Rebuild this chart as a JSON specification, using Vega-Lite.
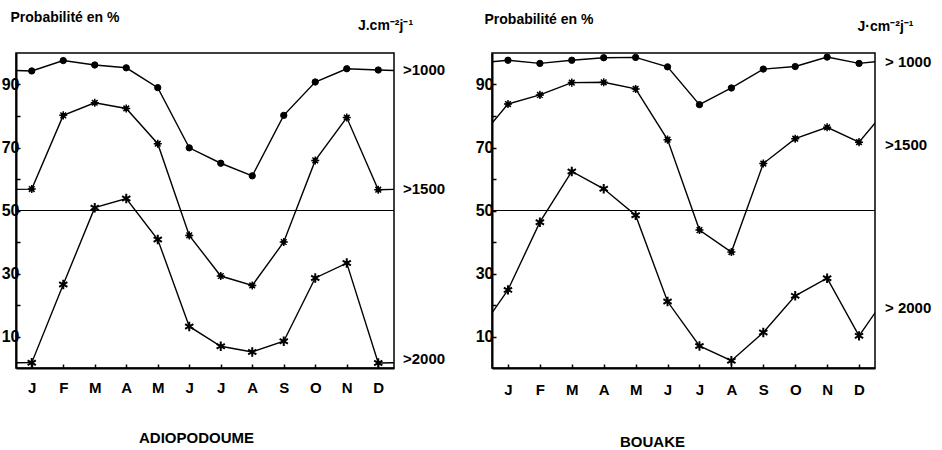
{
  "$schema": "https://vega.github.io/schema/vega-lite/v6.json",
  "autosize": {"type": "pad"},
  "padding": {"left": 0, "top": 9, "right": 5, "bottom": 5},
  "background": "white",
  "spacing": 28,
  "datasets": {
    "obs": [
      {"site": "A", "seuil": ">1000", "mois": 0, "p": 94.6},
      {"site": "A", "seuil": ">1000", "mois": 1, "p": 94.3},
      {"site": "A", "seuil": ">1000", "mois": 2, "p": 97.6},
      {"site": "A", "seuil": ">1000", "mois": 3, "p": 96.2},
      {"site": "A", "seuil": ">1000", "mois": 4, "p": 95.3},
      {"site": "A", "seuil": ">1000", "mois": 5, "p": 89.0},
      {"site": "A", "seuil": ">1000", "mois": 6, "p": 69.9},
      {"site": "A", "seuil": ">1000", "mois": 7, "p": 65.0},
      {"site": "A", "seuil": ">1000", "mois": 8, "p": 61.0},
      {"site": "A", "seuil": ">1000", "mois": 9, "p": 80.2},
      {"site": "A", "seuil": ">1000", "mois": 10, "p": 90.8},
      {"site": "A", "seuil": ">1000", "mois": 11, "p": 95.0},
      {"site": "A", "seuil": ">1000", "mois": 12, "p": 94.6},
      {"site": "A", "seuil": ">1000", "mois": 13, "p": 94.3},
      {"site": "A", "seuil": ">1500", "mois": 0, "p": 56.6},
      {"site": "A", "seuil": ">1500", "mois": 1, "p": 56.8},
      {"site": "A", "seuil": ">1500", "mois": 2, "p": 80.2},
      {"site": "A", "seuil": ">1500", "mois": 3, "p": 84.2},
      {"site": "A", "seuil": ">1500", "mois": 4, "p": 82.4},
      {"site": "A", "seuil": ">1500", "mois": 5, "p": 71.2},
      {"site": "A", "seuil": ">1500", "mois": 6, "p": 42.1},
      {"site": "A", "seuil": ">1500", "mois": 7, "p": 29.2},
      {"site": "A", "seuil": ">1500", "mois": 8, "p": 26.2},
      {"site": "A", "seuil": ">1500", "mois": 9, "p": 40.0},
      {"site": "A", "seuil": ">1500", "mois": 10, "p": 65.9},
      {"site": "A", "seuil": ">1500", "mois": 11, "p": 79.5},
      {"site": "A", "seuil": ">1500", "mois": 12, "p": 56.6},
      {"site": "A", "seuil": ">1500", "mois": 13, "p": 56.8},
      {"site": "A", "seuil": ">2000", "mois": 0, "p": 1.6},
      {"site": "A", "seuil": ">2000", "mois": 1, "p": 1.7},
      {"site": "A", "seuil": ">2000", "mois": 2, "p": 26.5},
      {"site": "A", "seuil": ">2000", "mois": 3, "p": 50.9},
      {"site": "A", "seuil": ">2000", "mois": 4, "p": 53.8},
      {"site": "A", "seuil": ">2000", "mois": 5, "p": 40.8},
      {"site": "A", "seuil": ">2000", "mois": 6, "p": 13.2},
      {"site": "A", "seuil": ">2000", "mois": 7, "p": 6.9},
      {"site": "A", "seuil": ">2000", "mois": 8, "p": 5.1},
      {"site": "A", "seuil": ">2000", "mois": 9, "p": 8.5},
      {"site": "A", "seuil": ">2000", "mois": 10, "p": 28.6},
      {"site": "A", "seuil": ">2000", "mois": 11, "p": 33.3},
      {"site": "A", "seuil": ">2000", "mois": 12, "p": 1.6},
      {"site": "A", "seuil": ">2000", "mois": 13, "p": 1.7},
      {"site": "B", "seuil": ">1000", "mois": 0, "p": 96.7},
      {"site": "B", "seuil": ">1000", "mois": 1, "p": 97.7},
      {"site": "B", "seuil": ">1000", "mois": 2, "p": 96.7},
      {"site": "B", "seuil": ">1000", "mois": 3, "p": 97.7},
      {"site": "B", "seuil": ">1000", "mois": 4, "p": 98.5},
      {"site": "B", "seuil": ">1000", "mois": 5, "p": 98.6},
      {"site": "B", "seuil": ">1000", "mois": 6, "p": 95.6},
      {"site": "B", "seuil": ">1000", "mois": 7, "p": 83.6},
      {"site": "B", "seuil": ">1000", "mois": 8, "p": 88.9},
      {"site": "B", "seuil": ">1000", "mois": 9, "p": 94.9},
      {"site": "B", "seuil": ">1000", "mois": 10, "p": 95.7},
      {"site": "B", "seuil": ">1000", "mois": 11, "p": 98.7},
      {"site": "B", "seuil": ">1000", "mois": 12, "p": 96.7},
      {"site": "B", "seuil": ">1000", "mois": 13, "p": 97.7},
      {"site": "B", "seuil": ">1500", "mois": 0, "p": 71.7},
      {"site": "B", "seuil": ">1500", "mois": 1, "p": 83.8},
      {"site": "B", "seuil": ">1500", "mois": 2, "p": 86.7},
      {"site": "B", "seuil": ">1500", "mois": 3, "p": 90.6},
      {"site": "B", "seuil": ">1500", "mois": 4, "p": 90.7},
      {"site": "B", "seuil": ">1500", "mois": 5, "p": 88.6},
      {"site": "B", "seuil": ">1500", "mois": 6, "p": 72.5},
      {"site": "B", "seuil": ">1500", "mois": 7, "p": 43.8},
      {"site": "B", "seuil": ">1500", "mois": 8, "p": 36.8},
      {"site": "B", "seuil": ">1500", "mois": 9, "p": 64.9},
      {"site": "B", "seuil": ">1500", "mois": 10, "p": 72.8},
      {"site": "B", "seuil": ">1500", "mois": 11, "p": 76.4},
      {"site": "B", "seuil": ">1500", "mois": 12, "p": 71.7},
      {"site": "B", "seuil": ">1500", "mois": 13, "p": 83.8},
      {"site": "B", "seuil": ">2000", "mois": 0, "p": 10.2},
      {"site": "B", "seuil": ">2000", "mois": 1, "p": 24.8},
      {"site": "B", "seuil": ">2000", "mois": 2, "p": 46.3},
      {"site": "B", "seuil": ">2000", "mois": 3, "p": 62.4},
      {"site": "B", "seuil": ">2000", "mois": 4, "p": 56.9},
      {"site": "B", "seuil": ">2000", "mois": 5, "p": 48.5},
      {"site": "B", "seuil": ">2000", "mois": 6, "p": 21.1},
      {"site": "B", "seuil": ">2000", "mois": 7, "p": 7.0},
      {"site": "B", "seuil": ">2000", "mois": 8, "p": 2.3},
      {"site": "B", "seuil": ">2000", "mois": 9, "p": 11.3},
      {"site": "B", "seuil": ">2000", "mois": 10, "p": 22.9},
      {"site": "B", "seuil": ">2000", "mois": 11, "p": 28.5},
      {"site": "B", "seuil": ">2000", "mois": 12, "p": 10.2},
      {"site": "B", "seuil": ">2000", "mois": 13, "p": 24.8}
    ],
    "labels": [
      {"site": "A", "label": ">1000", "pos": 94.6},
      {"site": "A", "label": ">1500", "pos": 56.8},
      {"site": "A", "label": ">2000", "pos": 3.0},
      {"site": "B", "label": "> 1000", "pos": 97.1},
      {"site": "B", "label": ">1500", "pos": 70.7},
      {"site": "B", "label": "> 2000", "pos": 19.0}
    ],
    "ref": [{"seuil50": 50}]
  },
  "hconcat": [
    {
      "width": 378,
      "height": 315,
      "resolve": {"axis": {"y": "independent"}},
      "layer": [
        {
          "data": {"name": "ref"},
          "mark": {"type": "rule", "color": "black", "strokeWidth": 1},
          "encoding": {"y": {"field": "seuil50", "type": "quantitative", "scale": {"domain": [0, 100], "nice": false}, "axis": null}}
        },
        {
          "data": {"name": "obs"},
          "transform": [{"filter": "datum.site === 'A'"}],
          "mark": {"type": "line", "color": "black", "strokeWidth": 1.4, "clip": true},
          "encoding": {
            "x": {
              "field": "mois", "type": "quantitative",
              "scale": {"domain": [0.5, 12.5], "nice": false, "zero": false},
              "axis": {
                "values": [1, 2, 3, 4, 5, 6, 7, 8, 9, 10, 11, 12],
                "labelExpr": "datum.value == 1 ? 'J' : datum.value == 2 ? 'F' : datum.value == 3 ? 'M' : datum.value == 4 ? 'A' : datum.value == 5 ? 'M' : datum.value == 6 ? 'J' : datum.value == 7 ? 'J' : datum.value == 8 ? 'A' : datum.value == 9 ? 'S' : datum.value == 10 ? 'O' : datum.value == 11 ? 'N' : 'D'",
                "labelOverlap": false, "labelFlush": false,
                "tickSize": -4, "labelPadding": 16, "labelFontSize": 15,
                "title": "ADIOPODOUME", "titleFontSize": 15, "titleX": 180, "titleY": 69,
                "titleAlign": "center", "titleBaseline": "middle"
              }
            },
            "y": {
              "field": "p", "type": "quantitative",
              "scale": {"domain": [0, 100], "nice": false},
              "axis": {
                "orient": "left",
                "values": [10, 20, 30, 40, 50, 60, 70, 80, 90],
                "labelExpr": "datum.value % 20 == 10 ? datum.label : ''",
                "tickSize": -4, "labelPadding": 1, "labelFontSize": 16,
                "title": "Probabilité en %", "titleFontSize": 14, "titleAngle": 0,
                "titleAlign": "left", "titleBaseline": "middle", "titleX": -6, "titleY": -36
              }
            },
            "detail": {"field": "seuil"}
          }
        },
        {
          "data": {"name": "obs"},
          "transform": [{"filter": "datum.site === 'A' && datum.mois >= 1 && datum.mois <= 12"}],
          "mark": {"type": "point", "filled": true, "color": "black", "stroke": "black", "opacity": 1, "clip": true},
          "encoding": {
            "x": {
              "field": "mois", "type": "quantitative",
              "scale": {"domain": [0.5, 12.5], "nice": false, "zero": false},
              "axis": {
                "values": [1, 2, 3, 4, 5, 6, 7, 8, 9, 10, 11, 12],
                "labelExpr": "datum.value == 1 ? 'J' : datum.value == 2 ? 'F' : datum.value == 3 ? 'M' : datum.value == 4 ? 'A' : datum.value == 5 ? 'M' : datum.value == 6 ? 'J' : datum.value == 7 ? 'J' : datum.value == 8 ? 'A' : datum.value == 9 ? 'S' : datum.value == 10 ? 'O' : datum.value == 11 ? 'N' : 'D'",
                "labelOverlap": false, "labelFlush": false,
                "tickSize": -4, "labelPadding": 16, "labelFontSize": 15,
                "title": "ADIOPODOUME", "titleFontSize": 15, "titleX": 180, "titleY": 69,
                "titleAlign": "center", "titleBaseline": "middle"
              }
            },
            "y": {"field": "p", "type": "quantitative", "scale": {"domain": [0, 100], "nice": false}, "axis": null},
            "shape": {
              "field": "seuil", "type": "nominal", "legend": null,
              "scale": {
                "domain": [">1000", ">1500", ">2000"],
                "range": [
                  "circle",
                  "M0,-1L0,1M-1,0L1,0M-0.7,-0.7L0.7,0.7M-0.7,0.7L0.7,-0.7M0.45,0A0.45,0.45 0 1,1 -0.45,0A0.45,0.45 0 1,1 0.45,0Z",
                  "M0,-1L0,1M-0.87,-0.5L0.87,0.5M-0.87,0.5L0.87,-0.5"
                ]
              }
            },
            "size": {"field": "seuil", "type": "nominal", "legend": null, "scale": {"domain": [">1000", ">1500", ">2000"], "range": [40, 90, 100]}},
            "strokeWidth": {"field": "seuil", "type": "nominal", "legend": null, "scale": {"domain": [">1000", ">1500", ">2000"], "range": [1, 2, 1.4]}}
          }
        },
        {
          "data": {"name": "labels"},
          "transform": [{"filter": "datum.site === 'A'"}],
          "mark": {"type": "text", "align": "left", "baseline": "middle", "dx": 9, "fontSize": 15, "fontWeight": "bold", "font": "Liberation Sans", "color": "black"},
          "encoding": {
            "x": {"value": "width"},
            "y": {
              "field": "pos", "type": "quantitative", "scale": {"domain": [0, 100], "nice": false},
              "axis": {
                "orient": "right", "labels": false, "ticks": false, "domain": false,
                "title": "J.cm⁻²j⁻¹", "titleFontSize": 14, "titleAngle": 0,
                "titleAlign": "center", "titleBaseline": "middle", "titleX": -9, "titleY": -28
              }
            },
            "text": {"field": "label"}
          }
        }
      ]
    },
    {
      "width": 383,
      "height": 315,
      "resolve": {"axis": {"y": "independent"}},
      "layer": [
        {
          "data": {"name": "ref"},
          "mark": {"type": "rule", "color": "black", "strokeWidth": 1},
          "encoding": {"y": {"field": "seuil50", "type": "quantitative", "scale": {"domain": [0, 100], "nice": false}, "axis": null}}
        },
        {
          "data": {"name": "obs"},
          "transform": [{"filter": "datum.site === 'B'"}],
          "mark": {"type": "line", "color": "black", "strokeWidth": 1.4, "clip": true},
          "encoding": {
            "x": {
              "field": "mois", "type": "quantitative",
              "scale": {"domain": [0.5, 12.5], "nice": false, "zero": false},
              "axis": {
                "values": [1, 2, 3, 4, 5, 6, 7, 8, 9, 10, 11, 12],
                "labelExpr": "datum.value == 1 ? 'J' : datum.value == 2 ? 'F' : datum.value == 3 ? 'M' : datum.value == 4 ? 'A' : datum.value == 5 ? 'M' : datum.value == 6 ? 'J' : datum.value == 7 ? 'J' : datum.value == 8 ? 'A' : datum.value == 9 ? 'S' : datum.value == 10 ? 'O' : datum.value == 11 ? 'N' : 'D'",
                "labelOverlap": false, "labelFlush": false,
                "tickSize": -4, "labelPadding": 18, "labelFontSize": 15,
                "title": "BOUAKE", "titleFontSize": 15, "titleX": 160, "titleY": 73,
                "titleAlign": "center", "titleBaseline": "middle"
              }
            },
            "y": {
              "field": "p", "type": "quantitative",
              "scale": {"domain": [0, 100], "nice": false},
              "axis": {
                "orient": "left",
                "values": [10, 20, 30, 40, 50, 60, 70, 80, 90],
                "labelExpr": "datum.value % 20 == 10 ? datum.label : ''",
                "tickSize": -4, "labelPadding": 3, "labelFontSize": 16,
                "title": "Probabilité en %", "titleFontSize": 14, "titleAngle": 0,
                "titleAlign": "left", "titleBaseline": "middle", "titleX": -8, "titleY": -34
              }
            },
            "detail": {"field": "seuil"}
          }
        },
        {
          "data": {"name": "obs"},
          "transform": [{"filter": "datum.site === 'B' && datum.mois >= 1 && datum.mois <= 12"}],
          "mark": {"type": "point", "filled": true, "color": "black", "stroke": "black", "opacity": 1, "clip": true},
          "encoding": {
            "x": {
              "field": "mois", "type": "quantitative",
              "scale": {"domain": [0.5, 12.5], "nice": false, "zero": false},
              "axis": {
                "values": [1, 2, 3, 4, 5, 6, 7, 8, 9, 10, 11, 12],
                "labelExpr": "datum.value == 1 ? 'J' : datum.value == 2 ? 'F' : datum.value == 3 ? 'M' : datum.value == 4 ? 'A' : datum.value == 5 ? 'M' : datum.value == 6 ? 'J' : datum.value == 7 ? 'J' : datum.value == 8 ? 'A' : datum.value == 9 ? 'S' : datum.value == 10 ? 'O' : datum.value == 11 ? 'N' : 'D'",
                "labelOverlap": false, "labelFlush": false,
                "tickSize": -4, "labelPadding": 18, "labelFontSize": 15,
                "title": "BOUAKE", "titleFontSize": 15, "titleX": 160, "titleY": 73,
                "titleAlign": "center", "titleBaseline": "middle"
              }
            },
            "y": {"field": "p", "type": "quantitative", "scale": {"domain": [0, 100], "nice": false}, "axis": null},
            "shape": {
              "field": "seuil", "type": "nominal", "legend": null,
              "scale": {
                "domain": [">1000", ">1500", ">2000"],
                "range": [
                  "circle",
                  "M0,-1L0,1M-1,0L1,0M-0.7,-0.7L0.7,0.7M-0.7,0.7L0.7,-0.7M0.45,0A0.45,0.45 0 1,1 -0.45,0A0.45,0.45 0 1,1 0.45,0Z",
                  "M0,-1L0,1M-0.87,-0.5L0.87,0.5M-0.87,0.5L0.87,-0.5"
                ]
              }
            },
            "size": {"field": "seuil", "type": "nominal", "legend": null, "scale": {"domain": [">1000", ">1500", ">2000"], "range": [40, 90, 100]}},
            "strokeWidth": {"field": "seuil", "type": "nominal", "legend": null, "scale": {"domain": [">1000", ">1500", ">2000"], "range": [1, 2, 1.4]}}
          }
        },
        {
          "data": {"name": "labels"},
          "transform": [{"filter": "datum.site === 'B'"}],
          "mark": {"type": "text", "align": "left", "baseline": "middle", "dx": 10, "fontSize": 15, "fontWeight": "bold", "font": "Liberation Sans", "color": "black"},
          "encoding": {
            "x": {"value": "width"},
            "y": {
              "field": "pos", "type": "quantitative", "scale": {"domain": [0, 100], "nice": false},
              "axis": {
                "orient": "right", "labels": false, "ticks": false, "domain": false,
                "title": "J·cm⁻²j⁻¹", "titleFontSize": 14, "titleAngle": 0,
                "titleAlign": "center", "titleBaseline": "middle", "titleX": 10, "titleY": -27
              }
            },
            "text": {"field": "label"}
          }
        }
      ]
    }
  ],
  "config": {
    "view": {"stroke": "black", "strokeWidth": 1.5},
    "axis": {
      "grid": false,
      "domainColor": "black", "domainWidth": 2,
      "tickColor": "black", "tickWidth": 1.5,
      "labelColor": "black", "titleColor": "black",
      "labelFont": "Liberation Sans", "titleFont": "Liberation Sans",
      "labelFontWeight": "bold", "titleFontWeight": "bold"
    },
    "axisX": {"labelOverlap": false},
    "text": {"font": "Liberation Sans"}
  }
}
